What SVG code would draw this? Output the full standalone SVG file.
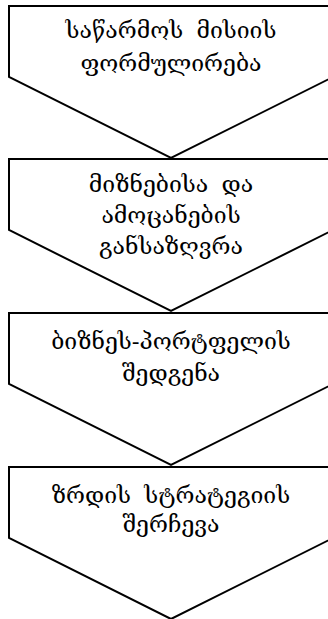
<svg xmlns="http://www.w3.org/2000/svg" width="328" height="619" viewBox="0 0 328 619">
<style>
.s{fill:#fff;stroke:#000;stroke-width:2;stroke-linejoin:miter}
.t{font-family:"DejaVu Serif","Noto Sans",serif;font-size:23px;fill:#000;text-anchor:middle}
</style>
<rect width="328" height="619" fill="#fff"/>
<g id="connectors"></g>
<g id="n1">
<polygon class="s" points="9,6 333,6 333,77 171,158 9,77"/>
<text class="t" x="171" y="38" word-spacing="6">საწარმოს მისიის</text>
<text class="t" x="171" y="71">ფორმულირება</text>
</g>
<g id="n2">
<polygon class="s" points="9,159 333,159 333,230 171,311 9,230"/>
<text class="t" x="171" y="192" word-spacing="6">მიზნებისა და</text>
<text class="t" x="171" y="223">ამოცანების</text>
<text class="t" x="171" y="254">განსაზღვრა</text>
</g>
<g id="n3">
<polygon class="s" points="9,313 333,313 333,384 171,465 9,384"/>
<text class="t" x="171" y="349">ბიზნეს-პორტფელის</text>
<text class="t" x="171" y="381">შედგენა</text>
</g>
<g id="n4">
<polygon class="s" points="9,467 333,467 333,538 171,619 9,538"/>
<text class="t" x="171" y="503" word-spacing="6">ზრდის სტრატეგიის</text>
<text class="t" x="171" y="532">შერჩევა</text>
</g>
</svg>
